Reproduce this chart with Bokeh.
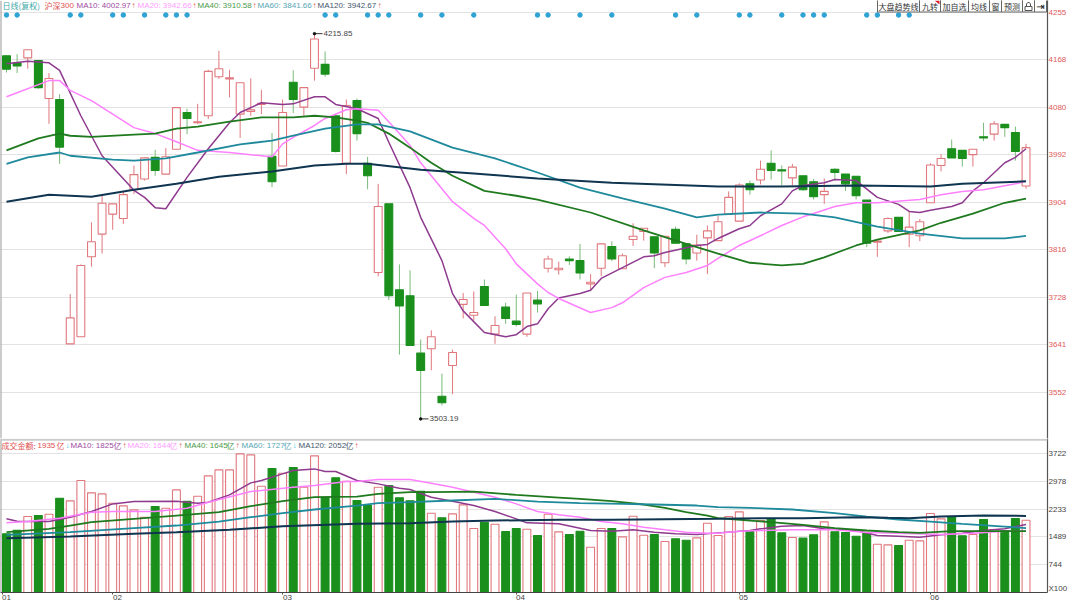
from bokeh.plotting import figure
from bokeh.layouts import column
from bokeh.models import Range1d, FixedTicker, Label, Span, ColumnDataSource
from bokeh.embed import file_html
from bokeh.resources import INLINE

opens = [4175,4162,4171,4166,4096,4094,3642,3655,3803,3845,
         3882,3874,3927,3947,3987,3956,4002,4070,4051,4064,
         4136,4132,4067,4072,4085,3989,3971,4126,4080,4152,
         4159,4064,3976,4092,3976,3774,3901,3742,3731,3625,
         3633,3545,3602,3715,3695,3748,3660,3710,3684,3660,
         3723,3782,3779,3799,3796,3753,3782,3822,3781,3835,
         3850,3840,3792,3854,3827,3810,3838,3833,3882,3869,
         3938,3945,3976,3964,3949,3953,3942,3918,3965,3956,
         3952,3908,3830,3851,3876,3845,3842,3903,3972,4003,
         4000,3992,4025,4030,4048,4033,3934]
closes = [4150,4156,4186,4116,4133,4006,3690,3787,3831,3902,
          3901,3918,3955,3986,3963,3988,4079,4059,4053,4146,
          4151,4134,4125,4075,4087,3942,4070,4094,4116,4206,
          4141,3998,4083,4031,3953,3896,3731,3712,3639,3593,
          3655,3533,3626,3724,3700,3713,3676,3689,3678,3736,
          3716,3799,3782,3796,3773,3756,3827,3799,3805,3841,
          3856,3810,3841,3828,3799,3825,3851,3868,3913,3936,
          3927,3965,3963,3962,3969,3927,3914,3924,3959,3938,
          3916,3828,3832,3874,3850,3858,3868,3973,3985,3986,
          3985,4002,4023,4049,4042,3998,4005]
highs = [4175,4178,4186,4166,4143,4104,3734,3789,3867,3916,
         3901,3925,3972,3987,4001,4004,4079,4077,4086,4149,
         4184,4149,4125,4133,4112,4032,4094,4148,4116,4215.85,
         4183,4064,4094,4096,3988,3938,3901,3789,3778,3650,
         3667,3587,3631,3736,3739,3761,3693,3718,3733,3736,
         3740,3805,3794,3804,3827,3771,3827,3832,3809,3865,
         3856,3840,3841,3859,3827,3844,3861,3879,3924,3939,
         3944,3981,4000,3972,3975,3953,3947,3948,3967,3956,
         3952,3908,3836,3876,3876,3887,3873,3976,3993,4020,
         4000,4002,4051,4054,4048,4044,4012]
lows = [4144,4143,4151,4114,4049,3975,3642,3655,3785,3809,
        3853,3864,3919,3944,3953,3956,4002,4030,4049,4058,
        4132,4098,4023,4064,4067,3932,3971,4069,4064,4129,
        4136,3996,3956,4018,3928,3767,3723,3622,3639,3503.19,
        3593,3528,3549,3689,3685,3713,3642,3679,3674,3655,
        3700,3774,3770,3788,3761,3740,3767,3795,3781,3823,
        3833,3782,3784,3828,3789,3796,3771,3833,3882,3869,
        3918,3937,3946,3935,3935,3925,3909,3901,3944,3925,
        3909,3821,3803,3847,3850,3821,3832,3903,3961,3986,
        3970,3970,4017,4018,4025,3981,3929]
amount = [1572,1670,2036,2063,2099,2527,2456,3000,2670,2643,
          2393,2322,2215,2018,2304,2259,2750,2447,2581,3126,
          3286,3286,3715,3688,2849,3322,3197,3349,2822,3661,
          2554,3072,2983,2465,2331,2822,2867,2536,2456,2715,
          2125,2000,2107,2349,1715,1884,1831,1634,1715,1697,
          1527,2099,1625,1554,1643,1214,1715,1715,1491,2045,
          1536,1554,1366,1438,1402,1465,1857,1527,2036,2161,
          1634,1929,1974,1598,1473,1456,1545,1893,1625,1607,
          1509,1607,1295,1277,1259,1402,1384,2116,1974,2036,
          1518,1554,1956,1688,1661,1982,1935]

ma10_i = [0,2,4,5,7,9,12,13,14,15,17,19,21,22,24,26,27,29,30,31,33,35,36,38,39,41,42,43,45,47,48,49,50,51,52,54,55,56,58,60,61,62,65,66,67,69,70,71,73,74,75,77,78,80,82,84,85,86,87,89,90,91,92,94,95,96]
ma10_v = [4160,4165,4162,4148,4064,3990,3926,3913,3894,3892,3950,4003,4051,4070,4088,4085,4086,4099,4099,4085,4077,4059,4015,3931,3876,3796,3735,3703,3663,3655,3659,3674,3679,3707,3727,3735,3741,3763,3783,3803,3805,3811,3824,3826,3837,3855,3861,3879,3901,3925,3935,3940,3946,3944,3913,3900,3887,3885,3889,3896,3903,3925,3940,3977,3987,4002.97]
ma20_i = [0,4,5,6,8,12,14,16,18,21,23,25,26,27,29,30,32,33,35,37,38,39,41,42,44,45,47,48,50,51,52,55,57,58,60,62,64,66,67,69,71,73,75,76,78,80,82,86,88,90,92,95,96]
ma20_v = [4099,4129,4129,4111,4092,4042,4031,4016,4000,3996,3992,3988,4012,4024,4046,4059,4075,4077,4074,4031,4009,3977,3929,3905,3874,3861,3818,3790,3753,3737,3726,3700,3709,3718,3746,3765,3774,3787,3800,3824,3842,3861,3877,3883,3896,3903,3903,3909,3918,3924,3927,3938,3942.66]
ma40_i = [0,3,5,6,8,12,14,16,18,21,24,27,29,31,33,34,36,38,40,42,45,48,50,55,60,64,67,70,73,75,77,80,82,86,88,91,94,96]
ma40_v = [4000,4022,4031,4027,4025,4029,4031,4040,4044,4053,4061,4061,4064,4061,4055,4051,4031,4005,3977,3953,3925,3916,3909,3885,3852,3827,3809,3792,3787,3790,3802,3824,3835,3852,3866,3883,3903,3910.58]
ma60_i = [0,2,5,6,10,12,15,18,22,25,27,30,33,35,38,42,46,50,54,58,62,65,67,71,75,78,82,86,90,94,96]
ma60_v = [3975,3987,3996,3990,3983,3981,3985,3996,4011,4018,4027,4040,4048,4048,4035,4005,3985,3959,3931,3911,3892,3876,3881,3885,3883,3876,3859,3846,3837,3837,3841.66]
ma120_i = [0,4,8,12,16,20,25,29,32,34,39,44,50,57,67,73,80,87,90,96]
ma120_v = [3905,3918,3914,3927,3938,3951,3961,3972,3975,3975,3964,3957,3948,3940,3933,3933,3935,3933,3938,3942.67]

amt10_i = [0,1,2,4,6,8,10,12,16,18,19,21,23,24,26,27,29,30,31,33,35,37,38,40,42,44,46,48,49,52,54,55,57,59,61,63,65,67,70,71,73,75,77,80,82,84,86,88,90,92,94,96]
amt10_v = [1974,1911,1902,1902,2018,2170,2375,2438,2447,2393,2420,2616,2938,3000,3179,3268,3313,3242,3242,3000,2911,2795,2759,2554,2447,2331,2170,1974,1866,1840,1723,1661,1643,1679,1616,1572,1554,1598,1661,1706,1777,1795,1706,1661,1527,1509,1482,1545,1590,1661,1706,1825]
amt20_i = [0,2,5,8,10,14,17,19,23,27,29,32,33,35,38,40,42,44,46,48,50,52,54,56,58,60,62,64,66,67,69,71,74,78,81,84,88,91,94,96]
amt20_v = [1866,1902,1991,2152,2170,2170,2259,2420,2706,2822,2867,2974,2974,3027,3027,2929,2822,2688,2554,2375,2170,2081,2018,1902,1840,1750,1679,1616,1590,1590,1643,1661,1679,1679,1607,1590,1554,1590,1643,1644]
amt40_i = [0,4,6,8,12,16,20,23,26,29,33,35,38,40,44,48,52,54,57,60,62,64,66,67,70,72,75,78,81,84,86,89,92,96]
amt40_v = [1616,1706,1795,1884,1974,2063,2152,2313,2447,2554,2572,2643,2688,2688,2706,2616,2545,2509,2447,2358,2268,2152,2063,1991,1929,1884,1813,1723,1661,1616,1598,1643,1643,1645]
amt60_i = [0,6,12,16,20,23,26,29,33,35,38,42,46,50,54,58,61,65,67,70,74,78,81,84,87,90,94,96]
amt60_v = [1545,1616,1723,1795,1902,2018,2125,2224,2331,2393,2420,2465,2509,2438,2393,2375,2358,2331,2286,2268,2224,2125,2036,1956,1902,1840,1768,1727]
amt120_i = [0,6,12,16,21,26,33,38,42,46,52,57,67,71,75,80,83,85,88,92,96]
amt120_v = [1456,1500,1572,1616,1679,1777,1840,1857,1902,1929,1947,1947,1974,1991,1991,2018,2000,1991,2036,2063,2052]

signal_days = [0,1,6,7,10,11,13,15,16,17,30,31,34,35,36,39,41,44,50,51,54,57,63,65,69,70,73,75,76,77,81,82,84,85]
price_ticks = [3552,3641,3728,3816,3904,3992,4080,4168,4255]
amount_ticks = [744,1489,2233,2978,3722]
month_labels = ["01","02","03","04","05","06"]
month_starts = [-0.38,10,26,48,69,87]
month_label_pos = [0,10.45,26.46,48.4,69.4,87.4]
unit_tick = 107
unit_label = "X100"

RED_EDGE = "#e0787e"
GREEN = "#1a8f1c"
GREEN_WICK = "#7abb7a"
GRID = "#c6c6c6"
AXIS = "#555555"
FONT = "Liberation Sans"
CJK = "Noto Sans CJK SC"
FS = "8px"

# reference-picture pixels to data coordinates (annotations only)
rx = lambda px: (px - 6) / 10.62
ry = lambda px: 4277.2 - 1.85 * px
vy = lambda px: (592 - px) * 26.8

xrange_ = (rx(0), rx(1047))
n = len(opens)
xs = list(range(n))
up = [c >= o for o, c in zip(opens, closes)]
pf = ColumnDataSource(dict(
    x=xs, top=[max(o, c) for o, c in zip(opens, closes)],
    bottom=[min(o, c) for o, c in zip(opens, closes)],
    high=highs, low=lows, amount=amount,
    edge=[RED_EDGE if u else GREEN for u in up],
    fill=["#ffffff" if u else GREEN for u in up],
    wick=[RED_EDGE if u else GREEN_WICK for u in up],
))


def base_fig(frame_h, yr, ticks, label_color, border_bottom):
    p = figure(frame_width=1047, frame_height=frame_h, x_range=Range1d(*xrange_),
               y_range=Range1d(*yr), y_axis_location="right",
               x_axis_location="below" if border_bottom else None,
               toolbar_location=None, output_backend="svg",
               min_border_left=0, min_border_top=0, min_border_right=33,
               min_border_bottom=border_bottom, background_fill_color="#ffffff")
    p.outline_line_color = None
    p.xgrid.visible = False
    p.ygrid.ticker = FixedTicker(ticks=ticks)
    p.ygrid.grid_line_color = GRID
    p.ygrid.grid_line_dash = "1 1"
    ax = p.yaxis[0]
    ax.ticker = FixedTicker(ticks=ticks)
    ax.major_tick_in = 0
    ax.major_tick_out = 0
    ax.minor_tick_line_color = None
    ax.axis_line_color = AXIS
    ax.axis_line_width = 1.2
    ax.major_label_standoff = 1
    ax.major_label_text_font = FONT
    ax.major_label_text_font_size = FS
    ax.major_label_text_color = label_color
    p.add_layout(Span(location=rx(0), dimension="height", line_color="#999999", line_width=2))
    return p


def text(p, px, y, s, color, align="left", font=FONT, size=FS):
    p.add_layout(Label(x=rx(px), y=y, text=s, text_color=color, text_font=font,
                       text_font_size=size, text_align=align, text_baseline="middle"))


MA_STYLE = [("#8e3a8e", 1.5), ("#ff80ff", 1.5), ("#1f7a1f", 1.8), ("#1f8a9c", 1.8), ("#0f3550", 2)]

# ---------- price panel ----------
p1 = base_fig(438, (ry(438), ry(0)), price_ticks, "#e05a5a", 0)
p1.segment("x", "low", "x", "high", source=pf, line_color="wick", line_width=1)
p1.vbar(x="x", top="top", bottom="bottom", width=0.74, source=pf,
        fill_color="fill", line_color="edge", line_width=1.1)
for (ix, vals), (c, w) in zip([(ma10_i, ma10_v), (ma20_i, ma20_v), (ma40_i, ma40_v),
                               (ma60_i, ma60_v), (ma120_i, ma120_v)], MA_STYLE):
    p1.line(ix, vals, line_color=c, line_width=w)
p1.scatter(signal_days, [ry(14.5)] * len(signal_days), marker="circle", size=4.5,
           fill_color="#2fa3d3", line_color="#2fa3d3")

# extreme markers
hi_i, lo_i = highs.index(max(highs)), lows.index(min(lows))
p1.segment([hi_i, lo_i], [max(highs), min(lows)], [rx(322), rx(428)], [max(highs), min(lows)],
           line_color="#333333", line_width=1)
p1.scatter([hi_i, lo_i], [max(highs), min(lows)], size=2.5, color="#111111")
text(p1, 323, max(highs), f"{max(highs):.2f}", "#444444")
text(p1, 429, min(lows), f"{min(lows):.2f}", "#444444")

# header row
hdr_y = ry(5)
for px, s, c, f in [(2, "日线(复权)", "#3fa8a8", CJK), (44, "沪深", "#e05050", CJK), (60, "300", "#e05050", FONT),
                    (76, "MA10: 4002.97", "#a04a9f", FONT), (131, "↑", "#e05050", FONT),
                    (137, "MA20: 3942.66", "#ff9dff", FONT), (192, "↑", "#e05050", FONT),
                    (197, "MA40: 3910.58", "#4c9a4c", FONT), (252, "↑", "#e05050", FONT),
                    (257, "MA60: 3841.66", "#56a6b4", FONT), (312, "↑", "#e05050", FONT),
                    (317, "MA120: 3942.67", "#44566a", FONT), (377, "↑", "#e05050", FONT)]:
    text(p1, px, hdr_y, s, c, font=f)

# button strip
btn_edges = [877, 919, 940, 968, 989, 1001, 1022, 1034, 1046]
btn_text = ["大盘趋势线", "九转", "加自选", "均线", "窗", "预测"]
p1.quad(left=[rx(v) for v in btn_edges[:-1]], right=[rx(v) for v in btn_edges[1:]],
        top=ry(-1), bottom=ry(11.5), fill_color="#ffffff", line_color="#666666", line_width=1)
for a, b, s in zip(btn_edges[:-1], btn_edges[1:], btn_text):
    text(p1, (a + b) / 2, ry(5.5), s, "#333333", align="center", font=CJK)
p1.patch([rx(934), rx(939), rx(939)], [ry(0), ry(0), ry(4)], fill_color="#e0202a", line_color=None)
p1.quad(left=rx(1024.5), right=rx(1031.5), top=ry(6), bottom=ry(10), fill_color=None,
        line_color="#555555", line_width=1)
p1.line([rx(v) for v in (1026, 1026, 1027.2, 1028.8, 1030, 1030)],
        [ry(v) for v in (6, 3.5, 2, 2, 3.5, 6)], line_color="#555555", line_width=1)
text(p1, 1040, ry(5.5), "⇥", "#111111", align="center", font="DejaVu Sans", size="10px")

# ---------- amount panel ----------
p2 = base_fig(154, (0, vy(438)), amount_ticks, "#444444", 10)
p2.yaxis[0].ticker = FixedTicker(ticks=[unit_tick] + amount_ticks)
p2.yaxis[0].major_label_overrides = {unit_tick: unit_label}
p2.vbar(x="x", top="amount", bottom=0, width=0.74, source=pf,
        fill_color="fill", line_color="edge", line_width=1.1)
for (ix, vals), (c, w) in zip([(amt10_i, amt10_v), (amt20_i, amt20_v), (amt40_i, amt40_v),
                               (amt60_i, amt60_v), (amt120_i, amt120_v)], MA_STYLE):
    p2.line(ix, vals, line_color=c, line_width=w)
p2.add_layout(Span(location=vy(439.3), dimension="width", line_color="#cccccc", line_width=2))

xa = p2.xaxis[0]
xa.ticker = FixedTicker(ticks=month_label_pos, minor_ticks=month_starts)
xa.major_label_overrides = dict(zip(month_label_pos, month_labels))
xa.major_label_text_font = FONT
xa.major_label_text_font_size = FS
xa.major_label_text_color = "#444444"
xa.major_label_standoff = 0
xa.major_tick_in = 0
xa.major_tick_out = 0
xa.minor_tick_in = 0
xa.minor_tick_out = 2
xa.minor_tick_line_color = AXIS
xa.axis_line_color = "#444444"
xa.axis_line_width = 1.2

hdr2 = vy(445)
for px, s, c, f in [(1, "成交金额:", "#e05050", CJK), (37, "1935", "#e05050", FONT), (56, "亿", "#e05050", CJK), (65, "↓", "#33c0d8", FONT),
                    (70, "MA10: 1825", "#a04a9f", FONT), (113, "亿", "#a04a9f", CJK), (122, "↑", "#e05050", FONT),
                    (127, "MA20: 1644", "#ff9dff", FONT), (169, "亿", "#ff9dff", CJK), (178, "↑", "#e05050", FONT),
                    (184, "MA40: 1645", "#4c9a4c", FONT), (226, "亿", "#4c9a4c", CJK), (235, "↑", "#e05050", FONT),
                    (241, "MA60: 1727", "#56a6b4", FONT), (283, "亿", "#56a6b4", CJK), (292, "↓", "#33c0d8", FONT),
                    (298, "MA120: 2052", "#44566a", FONT), (345, "亿", "#44566a", CJK), (354, "↑", "#e05050", FONT)]:
    text(p2, px, hdr2, s, c, font=f)

layout = column(p1, p2, spacing=0)
open("out.html", "w").write(file_html(layout, INLINE))
